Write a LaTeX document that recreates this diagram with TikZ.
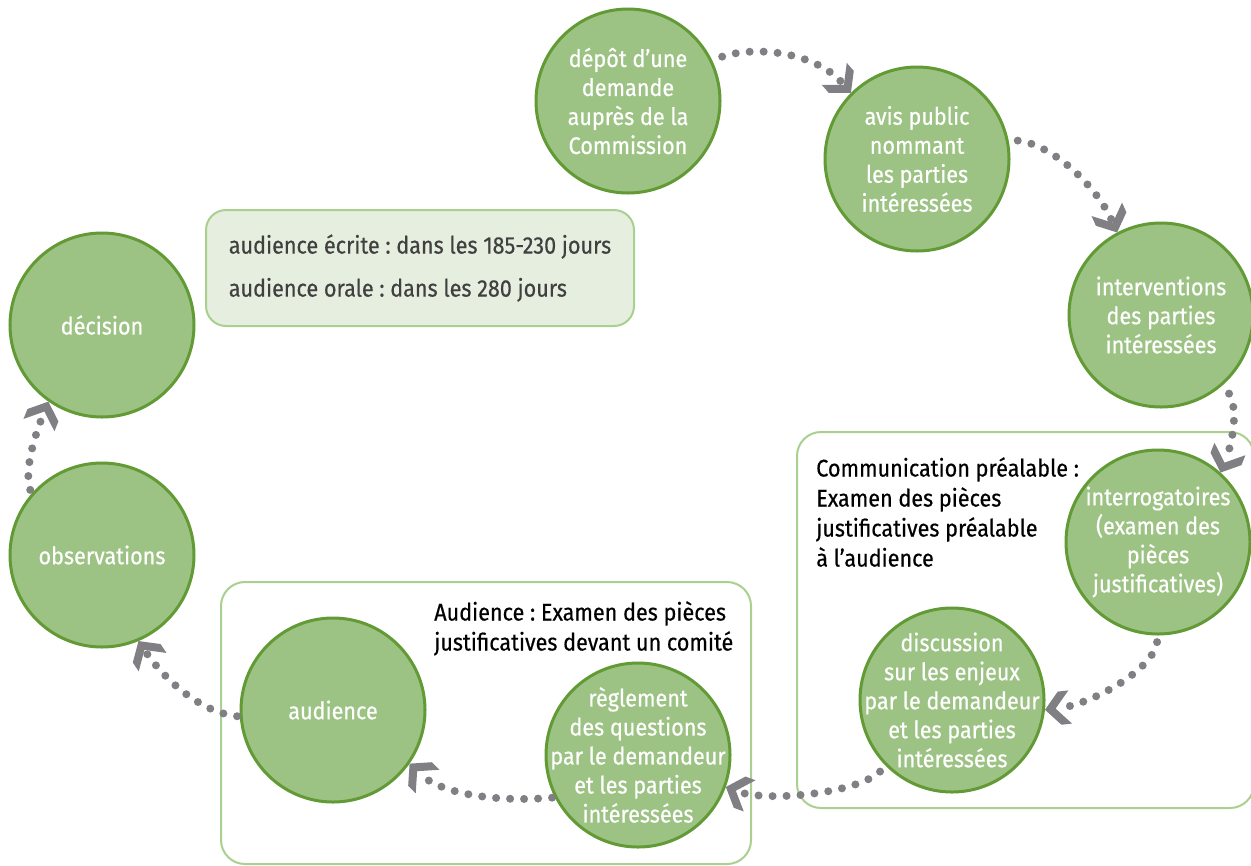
\documentclass[tikz,border=0pt]{standalone}
\usepackage{fontspec}
\setmainfont{Fira Sans}[FakeStretch=0.9, FakeBold=0.5]
\usetikzlibrary{arrows.meta}
\frenchspacing
\definecolor{cfill}{HTML}{9DC384}
\definecolor{cdraw}{HTML}{629A35}
\definecolor{boxline}{HTML}{A9D08E}
\definecolor{notefill}{HTML}{E6EFDF}
\definecolor{notetext}{HTML}{404040}
\definecolor{arrowgray}{HTML}{7F7F84}
\pgfdeclarearrow{
  name=Chev,
  setup code={%
    \pgfarrowssettipend{0pt}%
    \pgfarrowssetbackend{-19pt}%
    \pgfarrowssetvisualbackend{-19pt}%
    \pgfarrowssetlineend{-10pt}%
  },
  drawing code={%
    \pgfsetfillcolor{arrowgray}%
    \pgfpathmoveto{\pgfqpoint{0pt}{0pt}}%
    \pgfpathlineto{\pgfqpoint{-11pt}{12.5pt}}%
    \pgfpathlineto{\pgfqpoint{-19pt}{12.5pt}}%
    \pgfpathlineto{\pgfqpoint{-8pt}{0pt}}%
    \pgfpathlineto{\pgfqpoint{-19pt}{-12.5pt}}%
    \pgfpathlineto{\pgfqpoint{-11pt}{-12.5pt}}%
    \pgfpathclose
    \pgfusepathqfill
  }
}
\tikzset{
  stage/.style={circle, draw=cdraw, fill=cfill, line width=2.25pt, minimum size=138pt, inner sep=0pt},
  ctext/.style={text=white, align=center, inner sep=0pt, font=\fontsize{18}{21.75}\selectfont},
  blabel/.style={align=left, inner sep=0pt, text=black, font=\fontsize{18}{22.5}\selectfont},
  notebox/.style={draw=boxline, fill=notefill, rounded corners=15pt, line width=1.5pt,
    minimum width=321pt, minimum height=87pt, align=left, text=notetext,
    font=\fontsize{18}{21.75}\selectfont},
  groupbox/.style={draw=boxline, line width=1.5pt, rounded corners=18pt},
  flow/.style={draw=arrowgray, line width=6pt, line cap=round, dash pattern=on 0pt off 10.5pt,
    -{Chev}}
}
\begin{document}
\begin{tikzpicture}[x=0.75pt,y=-0.75pt]
\useasboundingbox (0,0) rectangle (1251,865);
% group boxes
\draw[groupbox] (797,432) rectangle (1254,808);
\draw[groupbox] (221,582) rectangle (751,864);
\node[notebox] (note) at (420,268) {audience écrite : dans les 185-230 jours\\[10.5pt]audience orale : dans les 280 jours};
\node[blabel, anchor=north west] (commlbl) at (816,457) {Communication préalable :\\Examen des pièces\\justificatives préalable\\à l’audience};
\node[blabel, anchor=north west] (audlbl) at (434,601) {Audience : Examen des pièces\\justificatives devant un comité};
% stages
\node[stage, label={[ctext]center:{dépôt d’une\\demande\\auprès de la\\Commission}}] (dep) at (628,101) {};
\node[stage, label={[ctext]center:{avis public\\nommant\\les parties\\intéressées}}] (avis) at (917,159) {};
\node[stage, label={[ctext]center:{interventions\\des parties\\intéressées}}] (interv) at (1161,315) {};
\node[stage, label={[ctext]center:{interrogatoires\\(examen des\\pièces\\justificatives)}}] (interr) at (1158,542) {};
\node[stage, label={[ctext]center:{discussion\\sur les enjeux\\par le demandeur\\et les parties\\intéressées}}] (disc) at (952,700) {};
\node[stage, label={[ctext]center:{règlement\\des questions\\par le demandeur\\et les parties\\intéressées}}] (regl) at (638,755) {};
\node[stage, label={[ctext]center:{audience}}] (aud) at (333,710) {};
\node[stage, label={[ctext]center:{observations}}] (obs) at (102,555) {};
\node[stage, label={[ctext]center:{décision}}] (dec) at (102,325) {};
% connectors
\draw[flow, shorten <=8pt] (dep.26) .. controls +(45,-15) and +(-35,-40) .. (avis.135);
\draw[flow, shorten <=7pt] (avis.12) .. controls +(45,5) and +(-20,-45) .. (interv.118);
\draw[flow, shorten <=8pt] (interv.-48) .. controls +(15,25) and +(12,-30) .. (interr.48);
\draw[flow, shorten <=5pt] (interr.-90) .. controls +(-5,35) and +(45,-5) .. (disc.-6);
\draw[flow, shorten <=6pt] (disc.-135) .. controls +(-30,28) and +(40,15) .. (regl.-20);
\draw[flow, shorten <=2pt] (regl.-153) .. controls +(-60,5) and +(30,30) .. (aud.-35);
\draw[flow, shorten <=2pt] (aud.184) .. controls +(-45,-5) and +(20,30) .. (obs.-67);
\draw[flow, shorten <=3pt] (obs.139) .. controls +(-8,-25) and +(-12,30) .. (dec.235);
\end{tikzpicture}
\end{document}
